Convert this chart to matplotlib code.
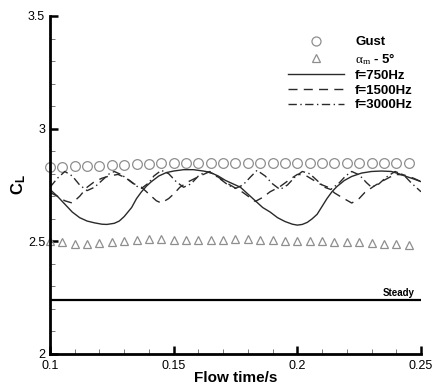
import matplotlib
matplotlib.use("Agg")
import matplotlib.pyplot as plt
from matplotlib.ticker import MultipleLocator
from matplotlib.lines import Line2D

plt.rcParams['font.family'] = ['Liberation Sans', 'DejaVu Sans']
plt.rcParams['mathtext.fontset'] = 'custom'
plt.rcParams['mathtext.rm'] = 'Liberation Serif'
plt.rcParams['mathtext.it'] = 'Liberation Serif:italic'
plt.rcParams['mathtext.bf'] = 'Liberation Sans:bold'

# ---- data ----
marker_t = [0.100, 0.105, 0.110, 0.115, 0.120, 0.125, 0.130, 0.135, 0.140, 0.145,
            0.150, 0.155, 0.160, 0.165, 0.170, 0.175, 0.180, 0.185, 0.190, 0.195,
            0.200, 0.205, 0.210, 0.215, 0.220, 0.225, 0.230, 0.235, 0.240, 0.245]
gust_cl = [2.832, 2.832, 2.834, 2.835, 2.836, 2.838, 2.840, 2.842, 2.844, 2.846,
           2.847, 2.848, 2.848, 2.848, 2.848, 2.848, 2.848, 2.848, 2.848, 2.848,
           2.848, 2.848, 2.848, 2.848, 2.848, 2.848, 2.848, 2.847, 2.847, 2.846]
alpha_cl = [2.500, 2.495, 2.490, 2.490, 2.492, 2.495, 2.500, 2.505, 2.510, 2.510,
            2.508, 2.508, 2.505, 2.505, 2.508, 2.510, 2.510, 2.508, 2.505, 2.500,
            2.500, 2.500, 2.500, 2.498, 2.495, 2.495, 2.492, 2.490, 2.488, 2.485]

t750 = [0.100, 0.103, 0.106, 0.109, 0.112, 0.115, 0.118, 0.121, 0.123, 0.126, 0.128,
        0.130, 0.133, 0.135, 0.137, 0.139, 0.141, 0.144, 0.147, 0.150, 0.154, 0.158,
        0.162, 0.165, 0.168, 0.171, 0.174, 0.177, 0.180, 0.183, 0.186, 0.189, 0.192,
        0.195, 0.198, 0.200, 0.202, 0.204, 0.206, 0.208, 0.210, 0.212, 0.214, 0.216,
        0.219, 0.222, 0.226, 0.230, 0.234, 0.238, 0.241, 0.244, 0.247, 0.250]
cl750 = [2.730, 2.700, 2.665, 2.630, 2.605, 2.590, 2.582, 2.576, 2.575, 2.580, 2.590,
         2.610, 2.650, 2.690, 2.720, 2.745, 2.765, 2.790, 2.805, 2.812, 2.818, 2.818,
         2.812, 2.805, 2.790, 2.770, 2.755, 2.740, 2.710, 2.680, 2.650, 2.630, 2.605,
         2.588, 2.576, 2.572, 2.575, 2.584, 2.600, 2.620, 2.655, 2.690, 2.720, 2.743,
         2.770, 2.788, 2.803, 2.810, 2.812, 2.810, 2.800, 2.788, 2.777, 2.765]

t1500 = [0.100, 0.103, 0.106, 0.109, 0.112, 0.115, 0.118, 0.121, 0.124, 0.1275,
         0.131, 0.134, 0.137, 0.140, 0.143, 0.145, 0.148, 0.150, 0.1525, 0.156,
         0.1606, 0.1647, 0.168, 0.1728, 0.178, 0.183, 0.186, 0.189, 0.193, 0.197,
         0.200, 0.203, 0.206, 0.209, 0.2124, 0.215, 0.218, 0.222, 0.225, 0.2273,
         0.231, 0.234, 0.2395, 0.243, 0.247, 0.250]
cl1500 = [2.717, 2.700, 2.680, 2.670, 2.700, 2.740, 2.765, 2.780, 2.790, 2.797,
          2.780, 2.755, 2.740, 2.710, 2.680, 2.670, 2.690, 2.710, 2.740, 2.765,
          2.790, 2.810, 2.785, 2.750, 2.717, 2.677, 2.695, 2.720, 2.743, 2.775,
          2.797, 2.795, 2.775, 2.755, 2.740, 2.715, 2.695, 2.670, 2.690, 2.717,
          2.745, 2.765, 2.797, 2.795, 2.780, 2.765]

t3000 = [0.100, 0.103, 0.106, 0.109, 0.112, 0.115, 0.118, 0.121, 0.124, 0.126,
         0.129, 0.132, 0.135, 0.137, 0.140, 0.142, 0.145, 0.148, 0.151, 0.154,
         0.157, 0.160, 0.163, 0.166, 0.169, 0.172, 0.175, 0.178, 0.181, 0.1837,
         0.187, 0.190, 0.193, 0.196, 0.199, 0.202, 0.205, 0.208, 0.211, 0.2135,
         0.217, 0.2195, 0.222, 0.225, 0.228, 0.230, 0.233, 0.236, 0.2395, 0.243,
         0.246, 0.250]
cl3000 = [2.740, 2.780, 2.810, 2.790, 2.750, 2.725, 2.740, 2.770, 2.800, 2.810,
          2.795, 2.770, 2.745, 2.735, 2.760, 2.790, 2.815, 2.800, 2.765, 2.740,
          2.755, 2.790, 2.810, 2.800, 2.775, 2.750, 2.735, 2.750, 2.785, 2.815,
          2.790, 2.755, 2.730, 2.750, 2.785, 2.810, 2.800, 2.770, 2.740, 2.730,
          2.760, 2.790, 2.810, 2.795, 2.760, 2.740, 2.755, 2.785, 2.810, 2.795,
          2.760, 2.720]

steady_t = [0.100, 0.250]
steady_cl = [2.24, 2.24]

legend_labels = ["Gust", r"$\mathrm{\alpha_m}$ - 5°", "f=750Hz", "f=1500Hz", "f=3000Hz"]

# ---- figure ----
fig = plt.figure(figsize=(4.33, 3.87), dpi=100)
ax = fig.add_axes([50/433, 1-354/387, 371/433, 338/387])

gray = '#8e8e8e'
ax.plot(marker_t, gust_cl, linestyle='none', marker='o', markersize=7,
        markerfacecolor='none', markeredgecolor=gray, markeredgewidth=0.9, clip_on=False)
ax.plot(marker_t, alpha_cl, linestyle='none', marker='^', markersize=6,
        markerfacecolor='none', markeredgecolor=gray, markeredgewidth=0.9, clip_on=False)
ax.plot(t750, cl750, color='#2a2a2a', lw=1.0, linestyle='-')
ax.plot(t1500, cl1500, color='#2a2a2a', lw=1.0, linestyle=(0, (6.5, 4.5)))
ax.plot(t3000, cl3000, color='#2a2a2a', lw=1.0, linestyle=(0, (6, 2.5, 1, 2.5)))
ax.plot(steady_t, steady_cl, color='black', lw=1.6)
ax.text(0.2475, 2.248, "Steady", ha='right', va='bottom', fontsize=7, fontweight='bold')

ax.set_xlim(0.1, 0.25)
ax.set_ylim(2.0, 3.5)
ax.xaxis.set_minor_locator(MultipleLocator(0.01))
ax.yaxis.set_minor_locator(MultipleLocator(0.1))
ax.set_xticks([0.1, 0.15, 0.2, 0.25])
ax.set_xticklabels(['0.1', '0.15', '0.2', '0.25'])
ax.set_yticks([2.0, 2.5, 3.0, 3.5])
ax.set_yticklabels(['2', '2.5', '3', '3.5'])

for s in ['top', 'right']:
    ax.spines[s].set_visible(False)
for s in ['left', 'bottom']:
    ax.spines[s].set_linewidth(2.0)

ax.tick_params(which='major', direction='in', length=6, width=1.8, labelsize=9, pad=3.5)
ax.tick_params(axis='x', which='major', pad=4.5)
ax.tick_params(which='minor', direction='in', length=3.5, width=0.7, color='#777777')
ax.get_yticklabels()[0].set_va('center_baseline')

ax.set_xlabel("Flow time/s", fontsize=11, fontweight='bold', labelpad=-1)
ax.set_ylabel(r"$\mathbf{C_L}$", fontsize=12, labelpad=0)

handles = [
    Line2D([], [], linestyle='none', marker='o', markersize=6.5, markerfacecolor='none',
           markeredgecolor=gray, markeredgewidth=0.9),
    Line2D([], [], linestyle='none', marker='^', markersize=5.5, markerfacecolor='none',
           markeredgecolor=gray, markeredgewidth=0.9),
    Line2D([], [], color='#2a2a2a', lw=1.0, linestyle='-'),
    Line2D([], [], color='#2a2a2a', lw=1.0, linestyle=(0, (6.5, 4.5))),
    Line2D([], [], color='#2a2a2a', lw=1.0, linestyle=(0, (6, 2.5, 1, 2.5))),
]
leg = ax.legend(handles, legend_labels, loc='upper left', bbox_to_anchor=(0.625, 0.96),
                frameon=False, handlelength=4.2, handletextpad=0.85, labelspacing=0.2,
                borderpad=0, prop={'size': 9.5, 'weight': 'bold'})

fig.savefig("out.png", dpi=100)
